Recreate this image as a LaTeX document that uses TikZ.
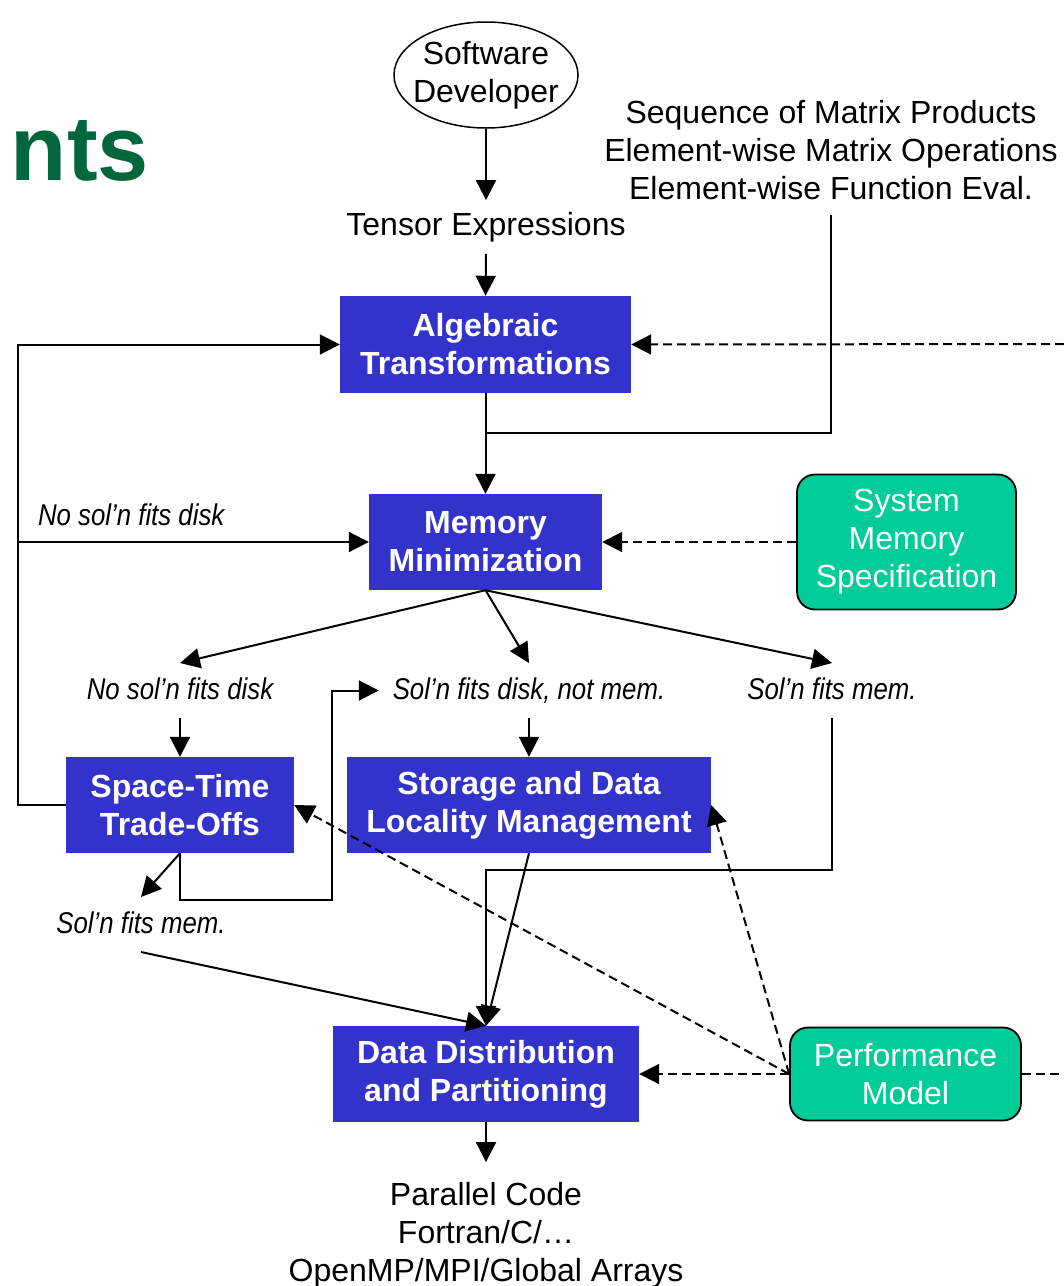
\documentclass[tikz,border=0pt]{standalone}
\usepackage{fontspec}
\setmainfont{Liberation Sans}
\newfontfamily\narrowfont[FakeStretch=0.86]{Liberation Sans}
\usetikzlibrary{arrows.meta,shapes.geometric}
\definecolor{boxblue}{RGB}{51,51,204}
\definecolor{boxgreen}{RGB}{0,204,153}
\definecolor{titlegreen}{RGB}{0,102,60}

\begin{document}
\begin{tikzpicture}[x=1pt,y=-1pt,
  every node/.style={font=\fontsize{32}{38}\selectfont},
  bluebox/.style={fill=boxblue,text=white,font=\fontsize{32}{38}\selectfont\bfseries,align=center,inner sep=0pt},
  greenbox/.style={fill=boxgreen,draw=black,line width=1.8pt,rounded corners=18pt,text=white,align=center,inner sep=0pt},
  lbl/.style={font=\narrowfont\itshape\fontsize{30}{36}\selectfont,inner sep=0pt,text height=22pt,text depth=5pt,outer sep=14pt},
  arr/.style={-{Triangle[length=20pt,width=20pt]},line width=2pt},
  dsh/.style={arr,dash pattern=on 9pt off 5pt}]
\useasboundingbox (0,0) rectangle (1064,1286);
  % Titre coupe
\node[anchor=base east,text=titlegreen,font=\fontsize{92}{92}\selectfont\bfseries,inner sep=0pt] (title) at (149,180) {nts};
  % Entrees
\node[ellipse,draw,line width=1.5pt,minimum width=184,minimum height=106,inner xsep=-11pt,inner ysep=0pt,align=center] (dev) at (486,75) {Software\\Developer};
\node[inner sep=0pt,outer sep=12pt] (tensor) at (486,227) {Tensor Expressions};
\node[align=center,inner sep=0pt,outer sep=15pt] (seq) at (831,150) {Sequence of Matrix Products\\Element-wise Matrix Operations\\Element-wise Function Eval.};
  % Boites
\node[bluebox,minimum width=291,minimum height=97] (alg) at (485.5,344.5) {Algebraic\\Transformations};
\node[bluebox,minimum width=233,minimum height=96] (memmin) at (485.5,542) {Memory\\Minimization};
\node[greenbox,minimum width=219,minimum height=135] (sysmem) at (906.5,542) {System\\Memory\\Specification};
\node[bluebox,minimum width=228,minimum height=96] (spacetime) at (180,805) {Space-Time\\Trade-Offs};
\node[bluebox,minimum width=364,minimum height=96] (storage) at (529,805) {Storage and Data\\Locality Management};
\node[bluebox,minimum width=306,minimum height=96] (datadist) at (486,1074) {Data Distribution\\and Partitioning};
\node[greenbox,minimum width=231,minimum height=93] (perf) at (905.5,1074) {Performance\\Model};
\node[align=center,inner sep=0pt,outer sep=20pt] (code) at (486,1235) {Parallel Code\\Fortran/C/…\\OpenMP/MPI/Global Arrays};
  % Cas
\node[lbl,anchor=base west,outer sep=0pt] (nofittop) at (38,525) {No sol’n fits disk};
\node[lbl,anchor=base] (nofit) at (180,699) {No sol’n fits disk};
\node[lbl,anchor=base] (fitdisk) at (529,699) {Sol’n fits disk, not mem.};
\node[lbl,anchor=base] (fitmem) at (832,699) {Sol’n fits mem.};
\node[lbl,anchor=base] (fitmemlow) at (141,933) {Sol’n fits mem.};
\coordinate (merge) at (486,433);
\coordinate (loopx) at (18,542);
\coordinate (bend) at (332,900);
\coordinate (edgetop) at (1064,344);
\coordinate (edgebot) at (1064,1074);
  % Fleches
\draw[arr] (dev.south) -- (tensor.north);
\draw[arr] (tensor.south) -- (alg.north);
\draw[arr] (alg.south) -- (memmin.north);
\draw[line width=2pt] (seq.south) |- (merge);
\draw[dsh] (edgetop) -- (alg.east);
\draw[arr] (spacetime.west) -- ++(-48,0) |- (alg.west);
\draw[arr] (loopx) -- (memmin.west);
\draw[dsh] (sysmem.west) -- (memmin.east);
\draw[arr] (memmin.south) -- (nofit.north);
\draw[arr] (memmin.south) -- (fitdisk.north);
\draw[arr] (memmin.south) -- (fitmem.north);
\draw[arr] (nofit.south) -- (spacetime.north);
\draw[arr] (fitdisk.south) -- (storage.north);
\draw[arr] (spacetime.south) -- (fitmemlow.north);
\draw[arr] (spacetime.south) |- (bend) |- (fitdisk.west);
\draw[arr] (fitmem.south) |- (merge |- 0,870) -- (datadist.north);
\draw[arr] (storage.south) -- (datadist.north);
\draw[arr] (fitmemlow.south) -- (datadist.north);
\draw[arr] (datadist.south) -- (code.north);
  % Modele
\draw[dsh] (perf.west) -- (datadist.east);
\draw[dsh] (perf.west) -- (spacetime.east);
\draw[dsh] (perf.west) -- (storage.east);
\draw[line width=2pt,dash pattern=on 9pt off 5pt] (perf.east) -- (edgebot);
\end{tikzpicture}
\end{document}
